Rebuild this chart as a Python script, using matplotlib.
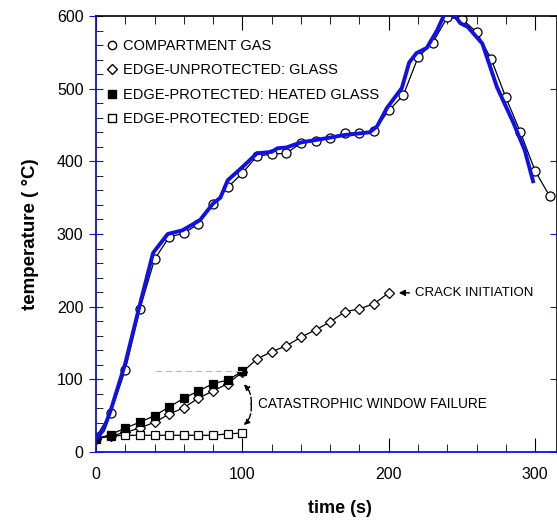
import matplotlib
matplotlib.use('Agg')
import matplotlib.pyplot as plt
from matplotlib.lines import Line2D
from matplotlib.ticker import MultipleLocator

plt.rcParams['font.family'] = ['Liberation Sans', 'DejaVu Sans']

# compartment gas, every 10 s
gas_t = list(range(0, 320, 10))
gas_v = [20, 54, 113, 197, 265, 296, 301, 314, 341, 364, 384, 407, 410, 411, 425, 428,
         432, 439, 439, 442, 470, 491, 543, 563, 598, 596, 578, 541, 488, 440, 387, 352]

# blue overlay trace
blue_t = [0, 5, 10, 20, 30, 39, 49, 59, 71, 80, 85, 90, 100, 110, 120, 124, 130, 140, 158,
          169, 187, 192, 199, 209, 214, 219, 226, 233, 238, 242, 246, 249, 254, 264, 274,
          285, 293, 299]
blue_v = [18, 30, 57, 122, 203, 274, 300, 305, 319, 342, 350, 374, 392, 411, 413, 418, 419,
          426, 432, 436, 440, 448, 474, 501, 536, 549, 556, 580, 602, 604, 598, 590, 585,
          562, 502, 454, 415, 370]

# edge-unprotected glass (0..200 s)
unprot_t = list(range(0, 210, 10))
unprot_v = [18, 22, 27, 33, 41, 52, 61, 74, 84, 94, 110, 128, 138, 146, 158, 168, 179, 193,
            197, 204, 219]

# edge-protected heated glass / edge (0..100 s)
prot_t = list(range(0, 110, 10))
heated_v = [18, 24, 33, 41, 50, 62, 74, 84, 94, 99, 111]
edge_v = [19, 22, 23, 23, 23, 23, 23, 23, 23, 25, 26]

labels = ['COMPARTMENT GAS', 'EDGE-UNPROTECTED: GLASS',
          'EDGE-PROTECTED: HEATED GLASS', 'EDGE-PROTECTED: EDGE']

fig = plt.figure(figsize=(5.57, 5.24), dpi=100)
ax = fig.add_axes([96 / 557, 1 - 452 / 524, 1 - 96 / 557, 436 / 524])

mk = dict(color='black', lw=0.9, mec='black', mew=0.9)
ax.plot(gas_t, gas_v, marker='o', ms=6.5, mfc='white', **mk)
ax.plot(unprot_t, unprot_v, marker='D', ms=5.5, mfc='white', **mk)
ax.plot(prot_t, edge_v, marker='s', ms=6, mfc='white', **mk)
ax.plot(prot_t, heated_v, marker='s', ms=6, mfc='black', **mk)
ax.plot([40, 100], [112, 112], color='#bbbbbb', lw=0.8, ls=(0, (6, 3)))
ax.plot(blue_t, blue_v, color='#1010e8', lw=2.8, solid_capstyle='butt', zorder=5)

ax.set_xlim(0, 315)
ax.set_ylim(0, 600)
ax.set_xticks([0, 100, 200, 300])
ax.set_yticks(range(0, 700, 100))
ax.xaxis.set_minor_locator(MultipleLocator(20))
ax.yaxis.set_minor_locator(MultipleLocator(20))
ax.tick_params(axis='x', which='major', direction='in', length=10, top=True,
               labelsize=11.5, pad=11)
ax.tick_params(axis='x', which='minor', direction='in', length=6, top=True)
ax.tick_params(axis='y', which='major', direction='inout', length=10, color='#1010e8',
               right=True, labelsize=11.5, pad=4)
ax.tick_params(axis='y', which='minor', direction='in', length=5, right=False)

for s in ['left', 'bottom']:
    ax.spines[s].set_color('#1010e8')
    ax.spines[s].set_linewidth(1.3)
for s in ['top', 'right']:
    ax.spines[s].set_linewidth(1.2)

ax.set_xlabel('time (s)', fontsize=13, fontweight='bold')
ax.set_ylabel('temperature ( °C)', fontsize=13.5, fontweight='bold')
ax.xaxis.set_label_coords(0.529, -0.11)
ax.yaxis.set_label_coords(-0.124, 0.5)

handles = [Line2D([], [], ls='none', marker='o', ms=6, mfc='white', mec='black'),
           Line2D([], [], ls='none', marker='D', ms=5, mfc='white', mec='black'),
           Line2D([], [], ls='none', marker='s', ms=5.5, mfc='black', mec='black'),
           Line2D([], [], ls='none', marker='s', ms=5.5, mfc='white', mec='black')]
ax.legend(handles, labels, loc='upper left', bbox_to_anchor=(0.02, 0.948), frameon=False,
          handlelength=0.9, handletextpad=0.35, labelspacing=0.72, borderpad=0,
          borderaxespad=0, prop={'size': 10.5})

ax.annotate('CRACK INITIATION', xy=(205, 219), xytext=(218, 219), va='center',
            fontsize=9.5,
            arrowprops=dict(arrowstyle='-|>', color='black', lw=1, mutation_scale=9))
ax.text(111, 66, 'CATASTROPHIC WINDOW FAILURE', va='center', fontsize=9.8)
for tip in [(101, 93), (101, 37)]:
    ax.annotate('', xy=tip, xytext=(106, 66),
                arrowprops=dict(arrowstyle='-|>', color='black', lw=1, mutation_scale=8,
                                connectionstyle='arc3,rad=%s' % (0.25 if tip[1] > 66 else -0.25),
                                shrinkA=0, shrinkB=0, linestyle=(0, (5, 2))))

fig.savefig('out.png', dpi=100)
